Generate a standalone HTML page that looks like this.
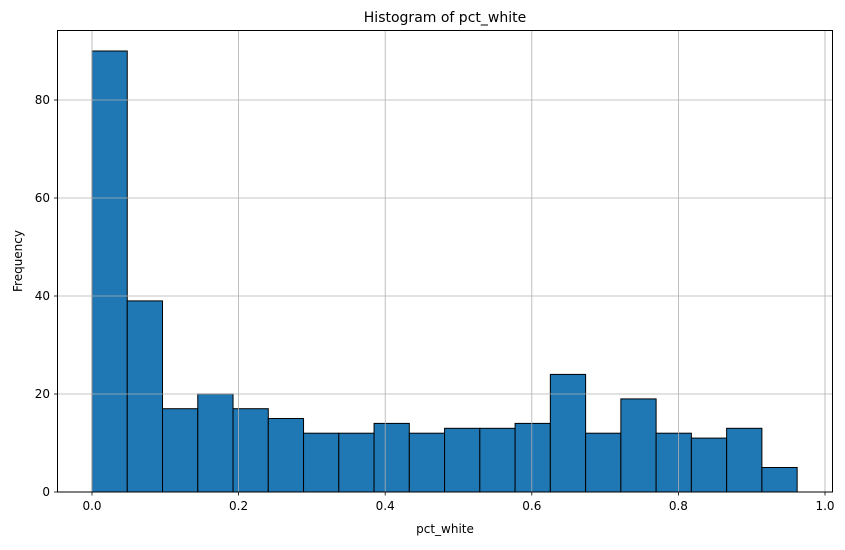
<!DOCTYPE html>
<html><head><meta charset="utf-8"><style>
body{margin:0;background:#fff;}
svg text{font-family:"DejaVu Sans","Liberation Sans",sans-serif;fill:#000;}
</style></head><body>
<svg id="chart" width="845" height="545" xmlns="http://www.w3.org/2000/svg">
<rect width="845" height="545" fill="#fff"/>
<g id="bars"></g>
<g id="grid"></g>
<g id="ticks"></g>
<rect x="57.5" y="30.5" width="775" height="461.5" fill="none" stroke="#000" stroke-width="1"/>
<text x="445" y="22" font-size="14" text-anchor="middle">Histogram of pct_white</text>
<text x="445" y="533" font-size="12" text-anchor="middle">pct_white</text>
<text x="22" y="261" font-size="12" text-anchor="middle" transform="rotate(-90 22 261)">Frequency</text>
</svg>
<script>
const counts=[90,39,17,20,17,15,12,12,14,12,13,13,14,24,12,19,12,11,13,5];
const binStart=0, binEnd=0.962;
const xTicks=[0,0.2,0.4,0.6,0.8,1.0];
const xTickLabels=["0.0","0.2","0.4","0.6","0.8","1.0"];
const yTicks=[0,20,40,60,80];
const NS="http://www.w3.org/2000/svg";
function xs(v){return 92+v*733;}
function ys(v){return 492-v*4.9;}
function mk(t,a,p){const e=document.createElementNS(NS,t);for(const k in a)e.setAttribute(k,a[k]);p.appendChild(e);return e;}
const bars=document.getElementById('bars'),grid=document.getElementById('grid'),ticks=document.getElementById('ticks');
const w=(binEnd-binStart)/counts.length;
counts.forEach((c,i)=>{
 const x0=xs(binStart+i*w),x1=xs(binStart+(i+1)*w);
 const r=mk('rect',{x:x0,y:ys(c),width:x1-x0,height:ys(0)-ys(c),fill:'#1f77b4',stroke:'#000','stroke-width':1},bars);
 
 
});
xTicks.forEach((v,i)=>{
 const x=xs(v);
 const g=mk('line',{x1:x,x2:x,y1:30.5,y2:492,stroke:'#b0b0b0','stroke-width':0.8},grid);
 
 
 mk('line',{x1:x,x2:x,y1:492,y2:495.5,stroke:'#000','stroke-width':0.8},ticks);
 const t=mk('text',{x:x,y:510,'font-size':12,'text-anchor':'middle'},ticks);
 t.textContent=xTickLabels[i];
 
 
});
yTicks.forEach(v=>{
 const y=ys(v);
 const g=mk('line',{x1:57.5,x2:832.5,y1:y,y2:y,stroke:'#b0b0b0','stroke-width':0.8},grid);
 
 
 mk('line',{x1:54,x2:57.5,y1:y,y2:y,stroke:'#000','stroke-width':0.8},ticks);
 const t=mk('text',{x:50,y:y+4,'font-size':12,'text-anchor':'end'},ticks);
 t.textContent=String(v);
 
 
});
</script>
</body></html>
